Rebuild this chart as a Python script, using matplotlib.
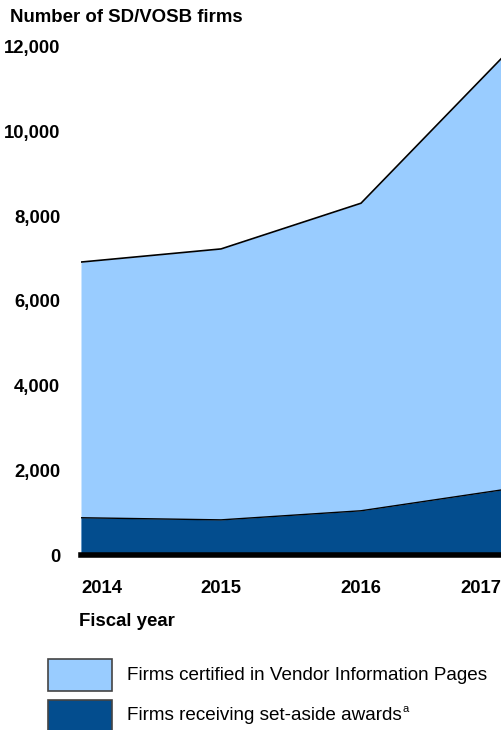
import matplotlib
matplotlib.use("Agg")
import matplotlib.pyplot as plt
from matplotlib.patches import Rectangle

years = [2014, 2015, 2016, 2017]
certified = [6920, 7230, 8310, 11720]
set_aside = [880, 830, 1045, 1535]
yticks = [0, 2000, 4000, 6000, 8000, 10000, 12000]
ytick_labels = ["0", "2,000", "4,000", "6,000", "8,000", "10,000", "12,000"]
xtick_labels = ["2014", "2015", "2016", "2017"]

plt.rcParams['font.family'] = ['Liberation Sans', 'DejaVu Sans']
LIGHT = "#99CCFF"
DARK = "#034D8E"

W, H = 501, 730
fig = plt.figure(figsize=(W/100, H/100), dpi=100)
ax = fig.add_axes([81/W, 1-555/H, 1-81/W, (555-47)/H])

ax.fill_between(years, 0, certified, color=LIGHT, lw=0)
ax.plot(years, certified, color="black", lw=1.2)
ax.fill_between(years, 0, set_aside, color=DARK, lw=0)
ax.plot(years, set_aside, color="black", lw=1.0)
ax.axhline(0, color="black", lw=4, clip_on=False)

ax.set_xlim(years[0], years[-1])
ax.set_ylim(0, 12000)
for s in ax.spines.values():
    s.set_visible(False)
ax.set_yticks(yticks)
ax.set_yticklabels(ytick_labels, fontsize=13.3, fontweight="bold")
ax.tick_params(axis="y", length=0, pad=15)
ax.set_xticks(years)
ax.set_xticklabels(xtick_labels, fontsize=13.3, fontweight="bold")
ax.tick_params(axis="x", length=0, pad=18)
xl = ax.get_xticklabels()
xl[0].set_ha("left")
xl[-1].set_ha("right")

fig.text(10/W, 1-18/H, "Number of SD/VOSB firms", fontsize=13.4, fontweight="bold", va="center", ha="left")
fig.text(79/W, 1-622/H, "Fiscal year", fontsize=13.4, fontweight="bold", va="center", ha="left")

# legend
legend_items = [(659, LIGHT, "Firms certified in Vendor Information Pages", ""),
                (700, DARK, "Firms receiving set-aside awards", "a")]
for (y0, col, label, sup) in legend_items:
    fig.patches.append(Rectangle((48/W, 1-(y0+32)/H), 64/W, 32/H, transform=fig.transFigure,
                                 facecolor=col, edgecolor="#444444", lw=1.2))
    t = fig.text(127/W, 1-(y0+16)/H, label, fontsize=13.6, va="center", ha="left")
    if sup:
        fig.canvas.draw()
        bb = t.get_window_extent()
        fig.text((bb.x1 + 1)/W, 1-(y0+9)/H, sup, fontsize=8, va="center", ha="left")

fig.savefig("out.png", dpi=100)
